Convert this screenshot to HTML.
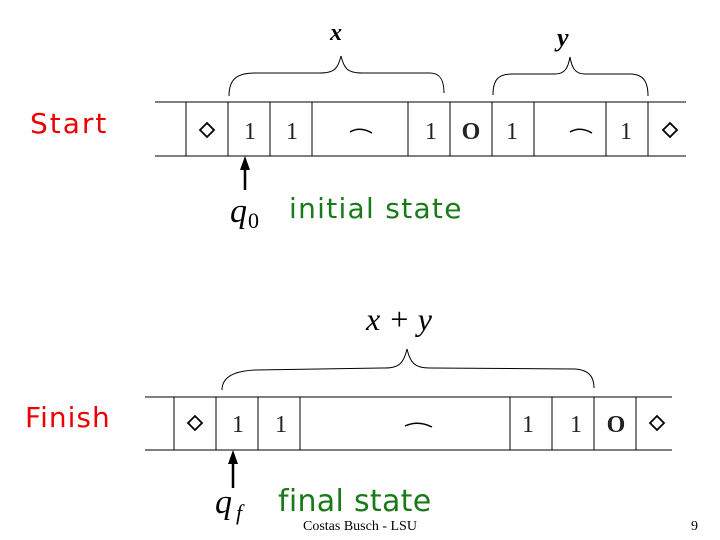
<!DOCTYPE html>
<html><head><style>
body{margin:0;width:720px;height:540px;background:#fff;overflow:hidden;position:relative;font-family:"Liberation Serif",serif}
.t{position:absolute;white-space:nowrap}
.c{font-family:"DejaVu Sans","Liberation Sans",sans-serif}
</style></head><body>
<svg width="720" height="540" style="position:absolute;left:0;top:0" font-family="Liberation Serif, serif">
<g stroke="#000" stroke-width="1" fill="none">
<line x1="155" y1="102" x2="686" y2="102"/><line x1="155" y1="156" x2="686" y2="156"/>
<path d="M186 102V156M228 102V156M270 102V156M312 102V156M408 102V156M450 102V156M492 102V156M534 102V156M606 102V156M648 102V156"/>
<line x1="145" y1="397" x2="672" y2="397"/><line x1="145" y1="450" x2="672" y2="450"/>
<path d="M174 397V450M216 397V450M258 397V450M300 397V450M510 397V450M552 397V450M594 397V450M636 397V450"/>
<path d="M229 96 C229 80 236 73 255 73 L320 73 C335 73 338 68 341 56 C344 68 347 73 362 73 L430 73 C440 73 444 80 444 93"/>
<path d="M493 95 C493 80 498 74 512 74 L555 74 C565 74 568 68 570 57 C572 68 575 74 585 74 L630 74 C642 74 648 80 648 96"/>
<path d="M222 390 C222 378 232 371 255 370 L385 368 C400 368 404 362 407 349 C410 362 414 368 430 368 L575 369 C590 370 594 378 594 388"/>
<path d="M200 130 L207 123 L214 130 L207 137 Z M663 130 L670 123 L677 130 L670 137 Z M188 423 L195 416 L202 423 L195 430 Z M650 423 L657 416 L664 423 L657 430 Z" stroke-width="1.8"/>
<path d="M350 132 Q360 126 372 133 M570 132 Q580 126 592 133 M405 426 Q418 420 432 427" stroke-width="1.5"/>
<line x1="245" y1="190" x2="245" y2="168" stroke-width="2.5"/>
<line x1="233" y1="488" x2="233" y2="462" stroke-width="2.5"/>
</g>
<path d="M245 156 L240 170 L250 170 Z M233 450 L228 464 L238 464 Z" fill="#000"/>
<g font-size="24" fill="#222" text-anchor="middle">
<text x="250" y="139">1</text><text x="292" y="139">1</text><text x="431" y="139">1</text>
<text x="512" y="139">1</text><text x="626" y="139">1</text>
<text x="471" y="139" font-weight="bold">O</text>
<text x="238" y="432">1</text><text x="281" y="432">1</text><text x="528" y="432">1</text><text x="576" y="432">1</text>
<text x="616" y="432" font-weight="bold">O</text>
</g>
<g font-style="italic" font-size="32" fill="#000">
<text x="330" y="40" font-weight="bold" font-size="24">x</text>
<text x="557" y="46" font-weight="bold" font-size="26">y</text>
<text x="366" y="330">x + y</text>
<text x="230" y="222" font-size="34">q</text><text x="248" y="228" font-style="normal" font-size="22">0</text>
<text x="215" y="513" font-size="34">q</text><text x="236" y="520" font-size="22">f</text>
</g>
</svg>
<div class="t c" style="left:30px;top:107px;font-size:28px;letter-spacing:2px;color:#e00">Start</div>
<div class="t c" style="left:25px;top:401px;font-size:28px;letter-spacing:1px;color:#e00">Finish</div>
<div class="t c" style="left:289px;top:192px;font-size:28px;letter-spacing:1.3px;color:#1a7a1a">initial state</div>
<div class="t c" style="left:278px;top:484px;font-size:30px;letter-spacing:0.3px;color:#1a7a1a">final state</div>
<div class="t" style="left:303px;top:519px;font-size:14px;color:#000">Costas Busch - LSU</div>
<div class="t" style="left:691px;top:519px;font-size:14px;color:#000">9</div>
</body></html>
